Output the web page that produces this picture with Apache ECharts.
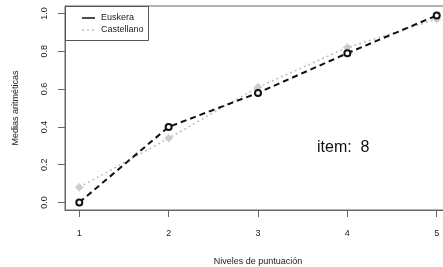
<!DOCTYPE html>
<html>
<head>
<meta charset="utf-8">
<script src="https://cdn.jsdelivr.net/npm/echarts@6/dist/echarts.min.js"></script>
<style>
  html, body { margin: 0; padding: 0; background: #fff; }
  #chart { width: 443px; height: 267px; }
</style>
</head>
<body>
<div id="chart"></div>
<script>
// niveles de puntuación (eje x)
const niveles = [1, 2, 3, 4, 5];
const yTicks = [0, 0.2, 0.4, 0.6, 0.8, 1.0];
// medias aritméticas
const euskera = [0.00, 0.40, 0.58, 0.79, 0.99];
const castellano = [0.08, 0.34, 0.61, 0.82, 0.97];
const itemLabel = "item:  8";

const font = "Liberation Sans, Arial, sans-serif";
const pairs = (ys) => niveles.map((x, i) => [x, ys[i]]);

let myChart = echarts.init(document.getElementById("chart"));

let option = {
  animation: false,
  grid: {
    left: 65, top: 6, right: -8, bottom: 57,
    outerBoundsMode: "none",
    containLabel: false,
    show: true, borderColor: "#666", borderWidth: 1
  },
  xAxis: {
    type: "value",
    min: 0.84, max: 5.16,
    name: "Niveles de puntuación",
    nameLocation: "middle",
    nameGap: 47,
    nameTextStyle: { fontFamily: font, fontSize: 9, color: "#222" },
    splitLine: { show: false },
    axisLine: { show: true, onZero: false, lineStyle: { color: "#666" } },
    axisTick: { show: true, length: 7, customValues: niveles, lineStyle: { color: "#666" } },
    axisLabel: {
      customValues: niveles, margin: 19,
      fontFamily: font, fontSize: 9, color: "#222"
    }
  },
  yAxis: {
    type: "value",
    min: -0.04, max: 1.04,
    name: "Medias aritméticas",
    nameLocation: "middle",
    nameGap: 45,
    nameRotate: 90,
    nameTextStyle: { fontFamily: font, fontSize: 9, color: "#222" },
    splitLine: { show: false },
    axisLine: { show: true, onZero: false, lineStyle: { color: "#666" } },
    axisTick: { show: true, length: 7, customValues: yTicks, lineStyle: { color: "#666" } },
    axisLabel: {
      customValues: yTicks, rotate: 90, margin: 16,
      fontFamily: font, fontSize: 9, color: "#222",
      formatter: (v) => v.toFixed(1)
    }
  },
  series: [
    {
      name: "Castellano",
      type: "line",
      data: pairs(castellano),
      lineStyle: { color: "#bdbdbd", width: 1.5, type: [2, 3] },
      symbol: "path://M-1,0A1,1 0 1,1 1,0A1,1 0 1,1 -1,0ZM0,-1.6L0,1.6M-1.6,0L1.6,0",
      symbolSize: 9,
      itemStyle: { color: "#cccccc", borderColor: "#cccccc", borderWidth: 1 },
      z: 2
    },
    {
      name: "Euskera",
      type: "line",
      data: pairs(euskera),
      lineStyle: { color: "#111", width: 2, type: [6, 4] },
      symbol: "emptyCircle",
      symbolSize: 6,
      itemStyle: { color: "#111", borderColor: "#111", borderWidth: 1.6 },
      z: 3
    }
  ],
  graphic: [
    // leyenda al estilo R
    { type: "rect", left: 65, top: 6, shape: { width: 83, height: 34 },
      style: { fill: "#fff", stroke: "#555", lineWidth: 1 }, z: 10 },
    { type: "line", shape: { x1: 82, y1: 18, x2: 95, y2: 18 },
      style: { stroke: "#111", lineWidth: 1.5 }, z: 11 },
    { type: "line", shape: { x1: 82, y1: 30, x2: 95, y2: 30 },
      style: { stroke: "#bdbdbd", lineWidth: 1.5, lineDash: [2, 3] }, z: 11 },
    { type: "text", left: 101, top: 13,
      style: { text: "Euskera", font: "9px " + font, fill: "#222" }, z: 11 },
    { type: "text", left: 101, top: 25,
      style: { text: "Castellano", font: "9px " + font, fill: "#222" }, z: 11 },
    { type: "text", left: 317, top: 140,
      style: { text: itemLabel, font: "16px " + font, fill: "#111" }, z: 11 }
  ]
};

myChart.setOption(option);
</script>
</body>
</html>
